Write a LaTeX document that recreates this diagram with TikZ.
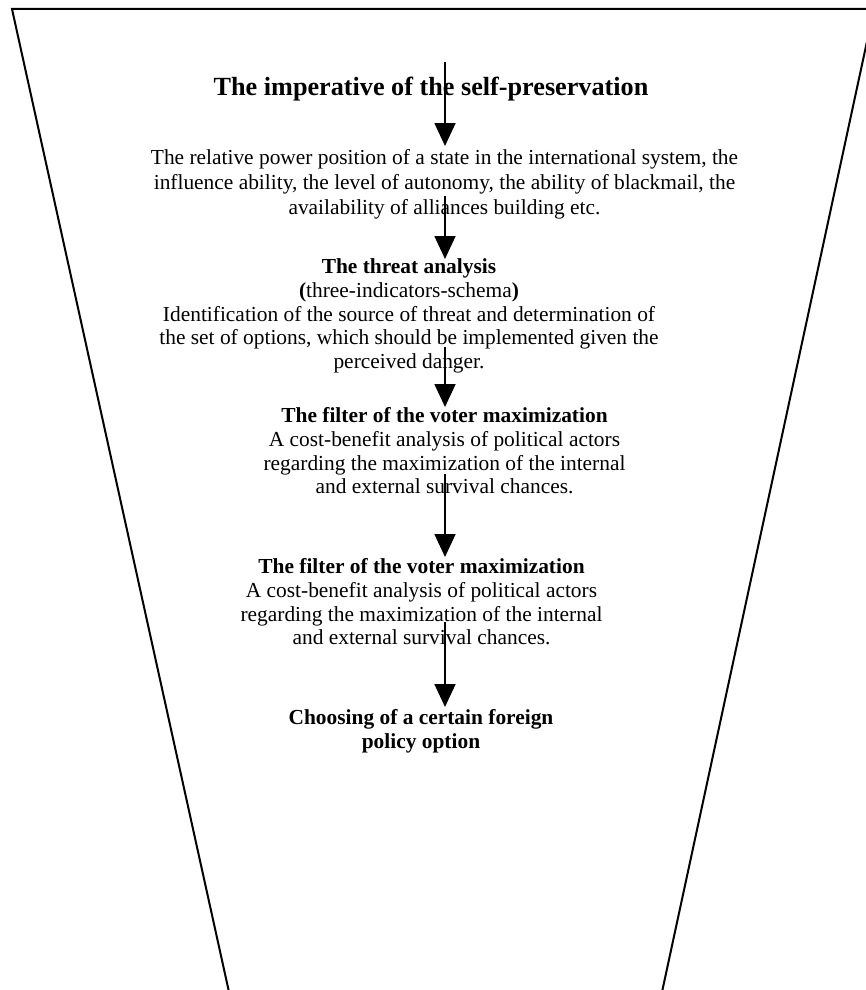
\documentclass[tikz,border=0pt]{standalone}
\usepackage{fontspec}
\setmainfont{Liberation Serif}
\usetikzlibrary{arrows.meta}
\begin{document}
\begin{tikzpicture}[x=1pt,y=-1pt,
  body/.style={inner sep=0pt,align=center,font=\fontsize{21.4}{23.6}\selectfont},
  wide/.style={inner sep=0pt,align=center,font=\fontsize{21.4}{25}\selectfont},
  bbody/.style={body,font=\fontsize{21.4}{23.6}\selectfont\bfseries},
  ttl/.style={inner sep=0pt,align=center,font=\fontsize{26.2}{29}\selectfont\bfseries},
  flow/.style={line width=1.8pt,-{Triangle[width=21pt,length=23pt]}},
  frame/.style={line width=2pt}]
\useasboundingbox (0,0) rectangle (866,990);
% funnel
\coordinate (tl) at (12,9);
\coordinate (tr) at (874,9);
\coordinate (bl) at (229,992);
\coordinate (br) at (662,992);
\begin{scope}
\clip (0,0) rectangle (866,990);
\draw[frame] (bl) -- (tl) -- (tr) -- (br);
\end{scope}
% texts
\node[ttl] (t0) at (431,89) {The imperative of the self-preservation};
\node[wide] (t1) at (444.5,184) {The relative power position of a state in the international system, the\\influence ability, the level of autonomy, the ability of blackmail, the\\availability of alliances building etc.};
\node[body] (t2) at (409,316) {\textbf{The threat analysis}\\\textbf{(}three-indicators-schema\textbf{)}\\Identification of the source of threat and determination of\\the set of options, which should be implemented given the\\perceived danger.};
\node[body] (t3) at (444.5,451) {\textbf{The filter of the voter maximization}\\A cost-benefit analysis of political actors\\regarding the maximization of the internal\\and external survival chances.};
\node[body] (t4) at (421.5,602) {\textbf{The filter of the voter maximization}\\A cost-benefit analysis of political actors\\regarding the maximization of the internal\\and external survival chances.};
\node[bbody] (t5) at (421,731) {Choosing of a certain foreign\\policy option};
% arrows
\coordinate (a1s) at (445,62);  \coordinate (a1e) at (445,146);
\coordinate (a2s) at (445,196); \coordinate (a2e) at (445,259);
\coordinate (a3s) at (445,347); \coordinate (a3e) at (445,407);
\coordinate (a4s) at (445,474); \coordinate (a4e) at (445,557);
\coordinate (a5s) at (445,622); \coordinate (a5e) at (445,707);
\draw[flow] (a1s) -- (a1e);
\draw[flow] (a2s) -- (a2e);
\draw[flow] (a3s) -- (a3e);
\draw[flow] (a4s) -- (a4e);
\draw[flow] (a5s) -- (a5e);
\end{tikzpicture}
\end{document}
